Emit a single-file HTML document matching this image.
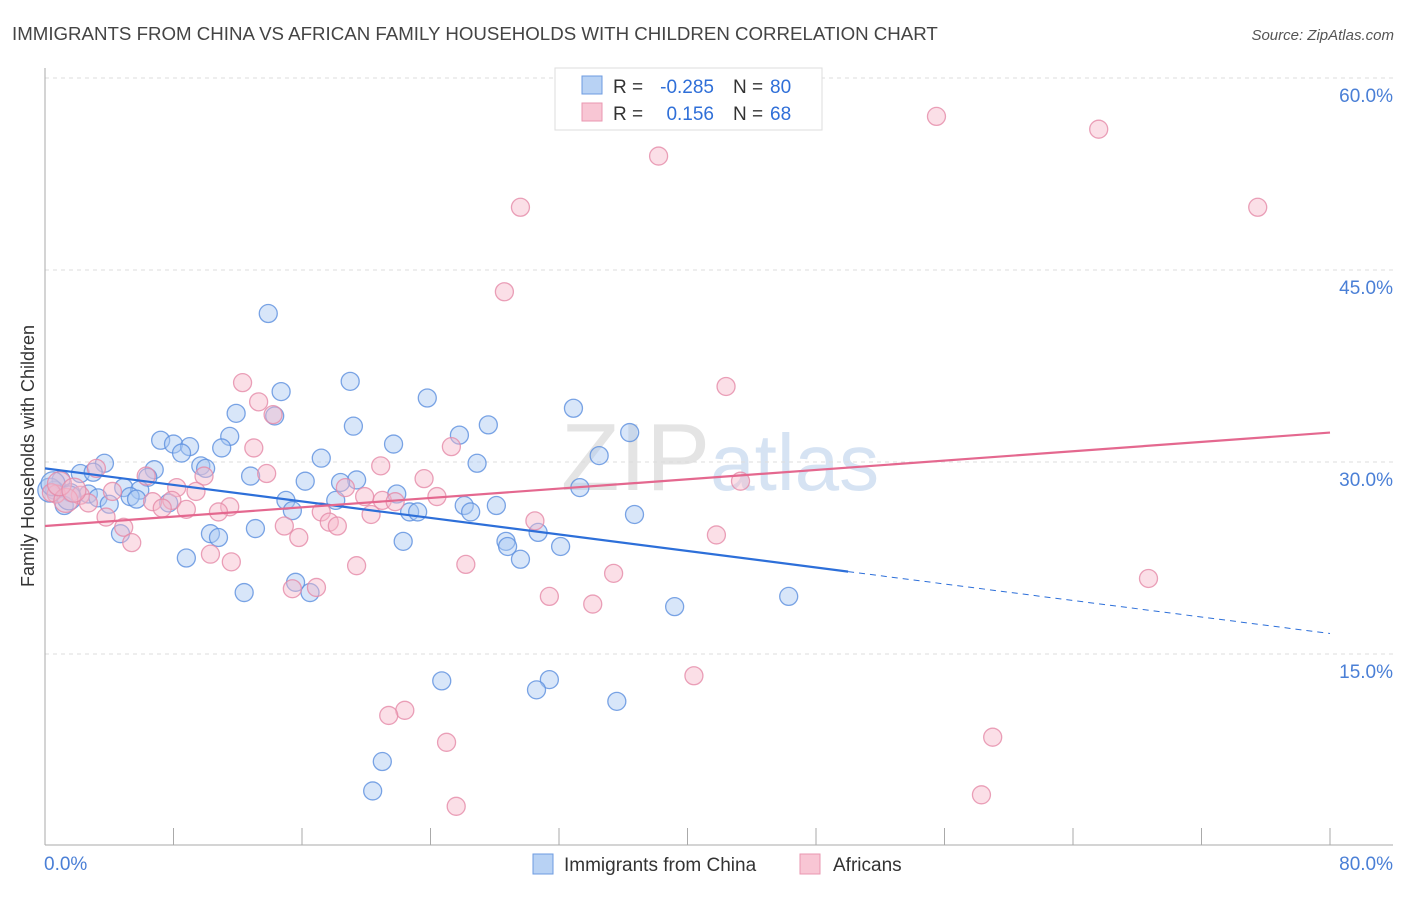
<!DOCTYPE html>
<html><head><meta charset="utf-8"><style>
body{margin:0;background:#fff;font-family:"Liberation Sans",sans-serif;}
svg text{font-family:"Liberation Sans",sans-serif;}
</style></head><body>
<svg id="chart" width="1406" height="892" viewBox="0 0 1406 892">
<text x="12" y="40" font-size="18.7" fill="#444">IMMIGRANTS FROM CHINA VS AFRICAN FAMILY HOUSEHOLDS WITH CHILDREN CORRELATION CHART</text>
<text x="1394" y="40" font-size="15" fill="#555" font-style="italic" text-anchor="end">Source: ZipAtlas.com</text>
<text x="720" y="490" font-size="96" fill="#e4e4e4" text-anchor="middle" font-family="Liberation Serif">ZIP<tspan fill="#d6e3f3" font-family="Liberation Sans" font-size="80">atlas</tspan></text>
<g id="grid"></g><g id="axes"></g><g id="pts"></g><g id="lines"></g>
<text transform="translate(34,456) rotate(-90)" font-size="18" fill="#333" text-anchor="middle">Family Households with Children</text>
<g>
<rect x="555" y="68" width="267" height="62" fill="#fff" stroke="#ddd"/>
<rect x="582" y="76" width="20" height="18" fill="#b8d2f4" stroke="#6d9be0"/>
<rect x="582" y="103" width="20" height="18" fill="#f8c6d4" stroke="#ea97b0"/>
<text x="613" y="93" font-size="19" fill="#333">R =</text>
<text x="714" y="93" font-size="19" fill="#2f6fd8" text-anchor="end">-0.285</text>
<text x="733" y="93" font-size="19" fill="#333">N =</text>
<text x="770" y="93" font-size="19" fill="#2f6fd8">80</text>
<text x="613" y="120" font-size="19" fill="#333">R =</text>
<text x="714" y="120" font-size="19" fill="#2f6fd8" text-anchor="end">0.156</text>
<text x="733" y="120" font-size="19" fill="#333">N =</text>
<text x="770" y="120" font-size="19" fill="#2f6fd8">68</text>
</g>
<g>
<rect x="533" y="854" width="20" height="20" fill="#b8d2f4" stroke="#6d9be0"/>
<text x="564" y="871" font-size="19" fill="#333">Immigrants from China</text>
<rect x="800" y="854" width="20" height="20" fill="#f8c6d4" stroke="#ea97b0"/>
<text x="833" y="871" font-size="19" fill="#333">Africans</text>
</g>
</svg>
<script>
const xTicks=[0,10,20,30,40,50,60,70,80];
const yTicks=[15,30,45,60];
const chinaX=[13.9,19.0,14.7,23.8,32.9,11.9,14.3,19.2,27.6,36.4,25.8,11.5,7.2,8.0,21.7,9.0,11.0,8.5,34.5,17.2,3.7,26.9,9.7,10.0,6.8,2.2,3.0,12.8,6.4,19.4,16.2,18.4,1.0,4.9,33.3,5.9,0.6,2.7,1.6,21.9,5.3,3.3,5.7,15.0,18.1,4.0,7.7,1.2,26.1,28.1,15.4,22.7,23.2,26.5,36.7,13.1,30.7,4.7,10.3,10.8,22.3,28.7,28.8,32.1,8.8,29.6,15.6,12.4,16.5,46.3,39.2,24.7,31.4,30.6,35.6,21.0,20.4,0.3,0.5,1.5];
const chinaY=[41.6,36.3,35.5,35.0,34.2,33.8,33.6,32.8,32.9,32.3,32.1,32.0,31.7,31.4,31.4,31.2,31.1,30.7,30.5,30.3,29.9,29.9,29.7,29.5,29.4,29.1,29.2,28.9,28.8,28.6,28.5,28.4,28.6,28.0,28.0,27.8,27.8,27.5,27.6,27.5,27.3,27.2,27.1,27.0,27.0,26.7,26.8,26.6,26.6,26.6,26.2,26.1,26.1,26.1,25.9,24.8,24.5,24.4,24.4,24.1,23.8,23.8,23.4,23.4,22.5,22.4,20.6,19.8,19.8,19.5,18.7,12.9,13.0,12.2,11.3,6.6,4.3,27.8,28.3,27.2];
const afrX=[55.5,65.6,38.2,29.6,75.5,28.6,12.3,42.4,13.3,14.2,25.3,13.0,20.9,13.8,3.2,6.3,9.9,23.6,43.3,8.2,9.4,4.2,0.7,2.2,18.7,19.9,24.4,21.0,21.8,6.7,7.9,2.7,11.5,7.3,8.8,10.8,20.3,17.2,3.8,17.7,18.2,30.5,4.9,14.9,15.8,41.8,5.4,10.3,11.6,19.4,26.2,35.4,68.7,15.4,16.9,31.4,34.1,40.4,22.4,21.4,59.0,25.0,58.3,25.6,0.4,1.3,0.9,1.8];
const afrY=[57.0,56.0,53.9,49.9,49.9,43.3,36.2,35.9,34.7,33.7,31.2,31.1,29.7,29.1,29.5,28.9,28.9,28.7,28.5,28.0,27.7,27.7,27.5,27.4,28.0,27.3,27.3,27.0,26.9,26.9,27.0,26.8,26.5,26.4,26.3,26.1,25.9,26.1,25.7,25.3,25.0,25.4,24.9,25.0,24.1,24.3,23.7,22.8,22.2,21.9,22.0,21.3,20.9,20.1,20.2,19.5,18.9,13.3,10.6,10.2,8.5,8.1,4.0,3.1,27.6,27.0,28.3,27.8];
const chinaTrend=[29.5,16.6];const chinaSolidEnd=50.0;
const afrTrend=[25.0,32.3];
const X0=45,X1=1330,Y0=846,PXY=192/15;
const sx=v=>X0+(X1-X0)*v/80, sy=v=>Y0-v*PXY;
const NS='http://www.w3.org/2000/svg';
function mk(tag,attrs,parent){const e=document.createElementNS(NS,tag);for(const k in attrs)e.setAttribute(k,attrs[k]);document.getElementById(parent).appendChild(e);return e;}
yTicks.forEach(t=>{
 const g=mk('line',{x1:X0,x2:1393,y1:sy(t),y2:sy(t),stroke:'#ddd','stroke-dasharray':'4,4'},'grid');
 
 
 const l=mk('text',{x:1393,y:sy(t)+24,'font-size':19,fill:'#4a7fd6','text-anchor':'end'},'axes');
 l.textContent=t.toFixed(1)+'%';
 
 
});
const ax=mk('line',{x1:X0,x2:X0,y1:68,y2:845,stroke:'#aaa'},'axes');


const bx=mk('line',{x1:X0,x2:1393,y1:845,y2:845,stroke:'#aaa'},'axes');


for(let i=0;i<=10;i++){const v=i*8;const t=mk('line',{x1:sx(v),x2:sx(v),y1:828,y2:845,stroke:'#aaa'},'axes');
 
 }
[[0,'start'],[80,'end']].forEach(([v,a])=>{const l=mk('text',{x:v===0?44:1393,y:870,'font-size':19,fill:'#4a7fd6','text-anchor':a},'axes');l.textContent=v.toFixed(1)+'%';
 
 });
function pts(xs,ys,fill,stroke,name){xs.forEach((x,i)=>{const big=i>=xs.length-3;const c=mk('circle',{cx:sx(x),cy:sy(ys[i]),r:big?12:9,fill:fill,'fill-opacity':0.45,stroke:stroke,'stroke-width':1.3,'stroke-opacity':0.8},'pts');
 
 });}
pts(chinaX,chinaY,'#a9c8f2','#5b8fde','china-point');
pts(afrX,afrY,'#f6b7ca','#e58aa7','africans-point');
const ct=v=>chinaTrend[0]+(chinaTrend[1]-chinaTrend[0])*v/80;
const l1=mk('line',{x1:sx(0),y1:sy(ct(0)),x2:sx(chinaSolidEnd),y2:sy(ct(chinaSolidEnd)),stroke:'#2d6fd9','stroke-width':2.2},'lines');


const l2=mk('line',{x1:sx(chinaSolidEnd),y1:sy(ct(chinaSolidEnd)),x2:sx(80),y2:sy(ct(80)),stroke:'#2d6fd9','stroke-width':1,'stroke-dasharray':'6,5'},'lines');


const l3=mk('line',{x1:sx(0),y1:sy(afrTrend[0]),x2:sx(80),y2:sy(afrTrend[1]),stroke:'#e4688f','stroke-width':2.2},'lines');


</script>
</body></html>
